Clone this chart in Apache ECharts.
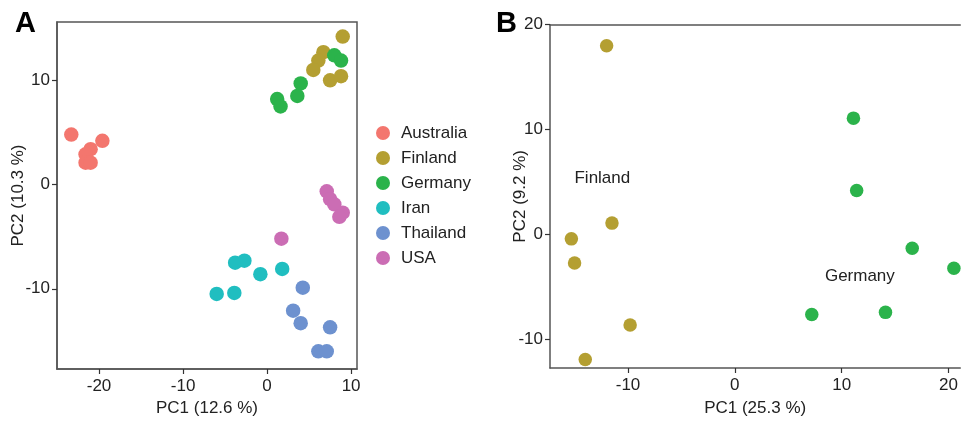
<!DOCTYPE html>
<html><head><meta charset="utf-8">
<script src="https://cdn.jsdelivr.net/npm/echarts@6/dist/echarts.min.js"></script>
<style>html,body{margin:0;padding:0;background:#fff}#c{width:961px;height:422px}</style>
</head><body><div id="c"></div>
<script>
// Panel A data (PC1, PC2)
const countries = ['Australia','Finland','Germany','Iran','Thailand','USA'];
const colors = ['#F3766E','#B49F32','#2BB34B','#20BEC0','#6D91CF','#CB6DB4'];
const australiaA = [[-23.3,4.8],[-19.6,4.2],[-21.0,3.4],[-21.6,2.9],[-21.6,2.1],[-21.0,2.1]];
const finlandA = [[9.0,14.2],[6.7,12.7],[6.1,11.9],[5.5,11.0],[7.5,10.0],[8.8,10.4]];
const germanyA = [[8.0,12.4],[8.8,11.9],[4.0,9.7],[3.6,8.5],[1.2,8.2],[1.6,7.5]];
const iranA = [[-3.8,-7.5],[-2.7,-7.3],[-0.8,-8.6],[1.8,-8.1],[-6.0,-10.5],[-3.9,-10.4]];
const thailandA = [[4.25,-9.9],[3.1,-12.1],[4.0,-13.3],[7.5,-13.7],[6.1,-16.0],[7.1,-16.0]];
const usaA = [[7.1,-0.65],[7.5,-1.4],[8.0,-1.9],[9.0,-2.7],[8.6,-3.1],[1.7,-5.2]];
const ticksAx = [-20,-10,0,10];
const ticksAy = [-10,0,10];
// Panel B data
const finlandB = [[-12.0,18.0],[-15.3,-0.4],[-11.5,1.1],[-15.0,-2.7],[-9.8,-8.6],[-14.0,-11.9]];
const germanyB = [[11.1,11.1],[11.4,4.2],[16.6,-1.3],[20.5,-3.2],[7.2,-7.6],[14.1,-7.4]];
const labelsB = [['Finland',-12.4,5.4],['Germany',11.7,-4.0]];
const ticksBx = [-10,0,10,20];
const ticksBy = [-10,0,10,20];

const F = 'Liberation Sans, Arial, sans-serif';
const FS = 17;
const axisCommon = {
  axisLine:{show:true,onZero:false,lineStyle:{color:'#555',width:1.5}},
  axisTick:{show:true,length:5,inside:false,lineStyle:{color:'#333',width:1.2}},
  axisLabel:{color:'#222',fontSize:FS,fontFamily:F,margin:7},
  splitLine:{show:false},
  nameLocation:'middle',
  nameMoveOverlap:false,
  nameTextStyle:{color:'#222',fontSize:FS,fontFamily:F}
};
function ax(o, ticks, margin){
  const a = JSON.parse(JSON.stringify(axisCommon));
  a.axisTick.customValues = ticks;
  a.axisLabel.customValues = ticks;
  if (margin !== undefined) a.axisLabel.margin = margin;
  return Object.assign(a, o);
}
const dataA = [australiaA, finlandA, germanyA, iranA, thailandA, usaA];
const series = [];
dataA.forEach((d,i)=>{
  series.push({type:'scatter',name:countries[i],xAxisIndex:0,yAxisIndex:0,data:d,symbolSize:14.5,
    itemStyle:{color:colors[i],opacity:1},emphasis:{disabled:true}});
});
series.push({type:'scatter',xAxisIndex:1,yAxisIndex:1,data:finlandB,symbolSize:13.5,itemStyle:{color:colors[1],opacity:1},emphasis:{disabled:true}});
series.push({type:'scatter',xAxisIndex:1,yAxisIndex:1,data:germanyB,symbolSize:13.5,itemStyle:{color:colors[2],opacity:1},emphasis:{disabled:true}});
series.push({type:'scatter',xAxisIndex:1,yAxisIndex:1,symbol:'circle',symbolSize:1,
  itemStyle:{color:'rgba(0,0,0,0)',opacity:1},
  data:labelsB.map(l=>({value:[l[1],l[2]],name:l[0]})),
  label:{show:true,position:'inside',formatter:p=>p.name,color:'#222',fontSize:FS,fontFamily:F},
  emphasis:{disabled:true}});

const chart = echarts.init(document.getElementById('c'),null,{renderer:'canvas'});
chart.setOption({
  animation:false,
  backgroundColor:'#fff',
  title:[
    {text:'A',left:10,top:4,textStyle:{fontSize:29,fontWeight:'bold',color:'#000',fontFamily:F}},
    {text:'B',left:491,top:4,textStyle:{fontSize:29,fontWeight:'bold',color:'#000',fontFamily:F}}
  ],
  legend:{orient:'vertical',left:376,top:124.5,padding:0,itemGap:8,itemWidth:14,itemHeight:15,icon:'circle',
    data:countries,textStyle:{fontSize:FS,color:'#222',fontFamily:F,padding:[0,0,0,6]},selectedMode:false},
  grid:[
    {left:57,top:22,width:300,height:348,show:true,borderColor:'#555',borderWidth:1.5},
    {left:550,top:24.7,width:411,height:344.3,show:false}
  ],
  xAxis:[
    ax({gridIndex:0,type:'value',min:-25,max:10.7,name:'PC1 (12.6 %)',nameGap:31},ticksAx,9),
    ax({gridIndex:1,type:'value',min:-17.3,max:21.1,name:'PC1 (25.3 %)',nameGap:32},ticksBx,9),
    {gridIndex:1,type:'value',position:'top',min:-17.3,max:21.1,
      axisLine:{show:true,onZero:false,lineStyle:{color:'#555',width:1.5}},
      axisTick:{show:false},axisLabel:{show:false},splitLine:{show:false}}
  ],
  yAxis:[
    ax({gridIndex:0,type:'value',min:-17.7,max:15.6,name:'PC2 (10.3 %)',nameGap:30},ticksAy),
    ax({gridIndex:1,type:'value',min:-12.7,max:20,name:'PC2 (9.2 %)',nameGap:21},ticksBy)
  ],
  series:series
});
</script></body></html>
